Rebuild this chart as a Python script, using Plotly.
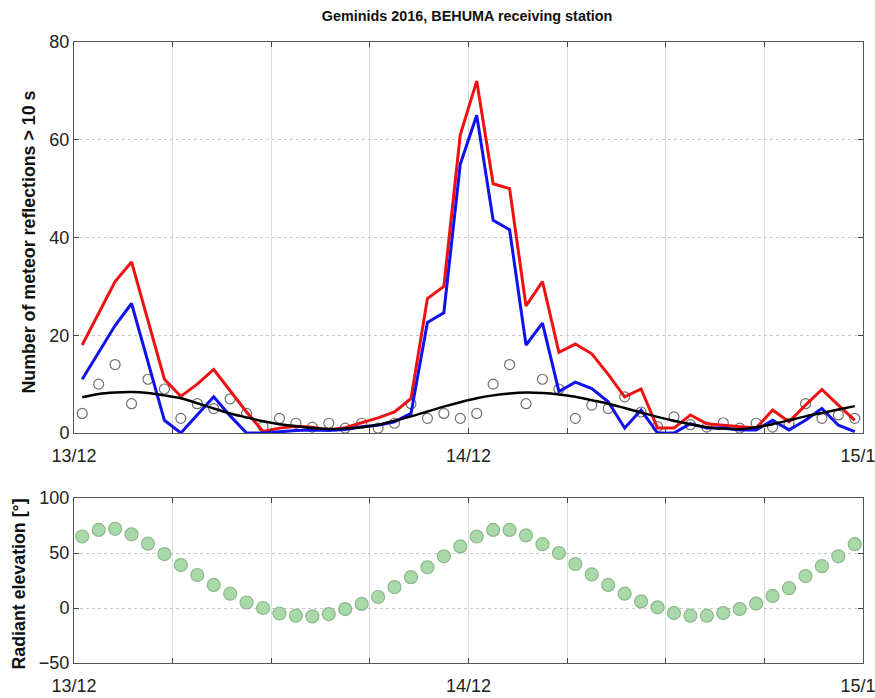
import plotly.graph_objects as go
from plotly.subplots import make_subplots

# hours since 13/12 00:00 (UT), hourly bins centred on half hours
hours = [i + 0.5 for i in range(48)]

red_counts = [18, 24.5, 31, 35, 23, 11, 7.5, 10, 13, 8.7, 4.3, 0.3,
              1, 1.4, 1.2, 0.6, 1.1, 2.1, 3.1, 4.3, 7, 27.5, 30, 61,
              72, 51, 50, 26, 31, 16.5, 18.2, 16.2, 12, 7.4, 9, 1,
              1, 3.7, 1.9, 1.6, 1.3, 1, 4.7, 2.3, 5.7, 8.9, 5.7, 2.6]

blue_counts = [11, 16.5, 22, 26.5, 14.5, 2.6, 0, 3.7, 7.4, 3.5, 0, 0,
               0.3, 0.5, 0.6, 0.5, 0.7, 1.3, 1.6, 2.3, 4, 22.6, 24.6, 55,
               65, 43.5, 41.6, 18, 22.5, 8.5, 10.4, 9.1, 6.4, 1, 4.7, 0,
               0, 1.9, 1, 1, 0.6, 0.6, 2.6, 0.6, 2.6, 5, 1.6, 0.3]

circle_counts = [4, 10, 14, 6, 11, 9, 3, 6, 5, 7, 4, 1.3,
                 3, 2, 1.2, 2, 1, 2, 1, 2, 6, 3, 4, 3,
                 4, 10, 14, 6, 11, 9, 3, 5.7, 5, 7.4, 4.3, 1.3,
                 3.3, 1.7, 1.2, 2.1, 1, 2, 1.2, 2, 6, 3, 3.7, 3]

background = [7.3, 8.0, 8.3, 8.4, 8.2, 7.7, 7.1, 6.1, 5.0, 4.0, 3.2, 2.4,
              1.8, 1.4, 1.0, 0.8, 0.9, 1.2, 1.7, 2.5, 3.4, 4.4, 5.4, 6.3,
              7.1, 7.7, 8.1, 8.3, 8.2, 7.9, 7.4, 6.7, 6.0, 5.1, 4.2, 3.3,
              2.5, 1.8, 1.2, 0.9, 0.8, 1.2, 1.8, 2.6, 3.4, 4.1, 4.8, 5.5]

elevation = [65, 71, 72, 67, 58.5, 49, 39, 30, 21, 13, 5, 0,
             -5, -7, -7.6, -5.5, -1, 3.7, 10, 19, 28, 37, 47, 56,
             65, 71, 71, 66, 58, 50, 40, 30.5, 21, 13, 6, 0.6,
             -4.6, -7, -7, -4.6, -1, 4, 11, 18, 29, 38, 47, 58]

x_tickvals = [0, 6, 12, 18, 24, 30, 36, 42, 48]
x_ticktext = ["13/12", "", "", "", "14/12", "", "", "", "15/12"]
top_yticks = [0, 20, 40, 60, 80]
bottom_yticks = [-50, 0, 50, 100]

W, H = 875, 698
ml, mr, mt, mb = 74, 12, 42, 35
ph = H - mt - mb

fig = make_subplots(rows=2, cols=1, vertical_spacing=0.0)

fig.add_trace(go.Scatter(x=hours, y=circle_counts, mode="markers",
                         marker=dict(symbol="circle-open", size=10,
                                     color="#707070", line=dict(width=1.2)),
                         showlegend=False), row=1, col=1)
fig.add_trace(go.Scatter(x=hours, y=red_counts, mode="lines",
                         line=dict(color="#ee1111", width=3),
                         showlegend=False), row=1, col=1)
fig.add_trace(go.Scatter(x=hours, y=blue_counts, mode="lines",
                         line=dict(color="#1111ee", width=3),
                         showlegend=False), row=1, col=1)
fig.add_trace(go.Scatter(x=hours, y=background, mode="lines",
                         line=dict(color="#000000", width=2.5, shape="spline"),
                         showlegend=False), row=1, col=1)

fig.add_trace(go.Scatter(x=hours, y=elevation, mode="markers",
                         marker=dict(symbol="circle", size=13,
                                     color="#a9d8a9",
                                     line=dict(color="#8cb88c", width=1.2)),
                         showlegend=False), row=2, col=1)

tickfont = dict(family="Liberation Sans, Arial, sans-serif", size=18, color="#222222")
common_x = dict(range=[0, 48], tickmode="array", tickvals=x_tickvals,
                ticktext=x_ticktext, ticks="inside", ticklen=5,
                tickcolor="#444", showline=True, linecolor="#555",
                linewidth=1, mirror="ticks", showgrid=True,
                gridcolor="#dcdcdc", gridwidth=1, zeroline=False,
                tickfont=tickfont, ticklabeloverflow="allow", automargin=False)
common_y = dict(ticks="inside", ticklen=5, tickcolor="#444", showline=True,
                linecolor="#555", linewidth=1, mirror="ticks", showgrid=True,
                gridcolor="#c8c8c8", griddash="dot", gridwidth=1,
                zeroline=False, tickfont=tickfont, automargin=False)

top_dom = [(H - mb - 433) / ph, 1.0]
bot_dom = [0.0, (H - mb - 498) / ph]

fig.update_xaxes(**common_x, ticklabelstandoff=6, row=1, col=1)
fig.update_xaxes(**common_x, ticklabelstandoff=6, row=2, col=1)
fig.update_yaxes(**common_y, range=[0, 80], tickvals=top_yticks,
                 domain=top_dom, row=1, col=1)
fig.update_yaxes(**common_y, range=[-50, 100], tickvals=bottom_yticks,
                 domain=bot_dom, row=2, col=1)

labfont = dict(family="Liberation Sans, Arial, sans-serif", size=17.8, color="#111111")
fig.update_layout(
    width=W, height=H,
    margin=dict(l=ml, r=mr, t=mt, b=mb, autoexpand=False),
    paper_bgcolor="white", plot_bgcolor="white",
    title=dict(text="<b>Geminids 2016, BEHUMA receiving station</b>",
               x=(ml + 393) / W, xanchor="center", y=1 - 16 / H, yanchor="middle",
               font=dict(family="Liberation Sans, Arial, sans-serif", size=14.4, color="#111")),
    annotations=[
        dict(text="<b>Number of meteor reflections > 10 s</b>", textangle=-90,
             xref="paper", yref="paper", x=0, xshift=-(ml - 28),
             y=(top_dom[0] + top_dom[1]) / 2, yshift=-5,
             xanchor="center", yanchor="middle",
             showarrow=False, font=labfont),
        dict(text="<b>Radiant elevation [°]</b>", textangle=-90,
             xref="paper", yref="paper", x=0, xshift=-(ml - 18),
             y=(bot_dom[0] + bot_dom[1]) / 2, yshift=-4,
             xanchor="center", yanchor="middle",
             showarrow=False, font=labfont),
    ],
)

fig.write_html("out.html")
